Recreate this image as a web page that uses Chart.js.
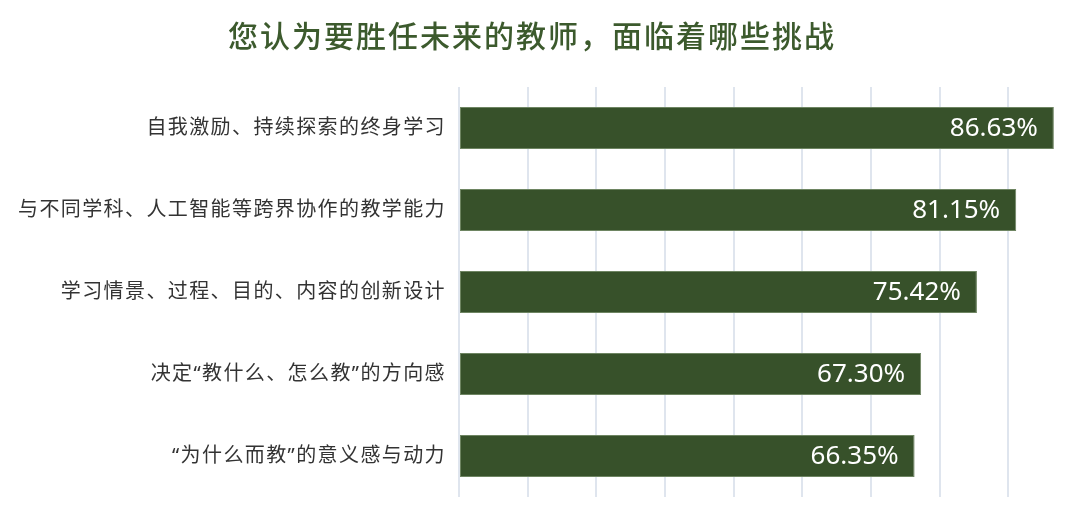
<!DOCTYPE html>
<html>
<head>
<meta charset="utf-8">
<script src="https://cdn.jsdelivr.net/npm/chart.js@4.4.0/dist/chart.umd.min.js"></script>
<style>
  html, body { margin: 0; padding: 0; background: #fff; }
  #wrap { width: 1080px; height: 506px; }
</style>
</head>
<body>
<div id="wrap"><canvas id="grafico"></canvas></div>
<script>
// -------- DADOS --------
const titulo = "您认为要胜任未来的教师，面临着哪些挑战";
const categorias = [
  "自我激励、持续探索的终身学习",
  "与不同学科、人工智能等跨界协作的教学能力",
  "学习情景、过程、目的、内容的创新设计",
  "决定“教什么、怎么教”的方向感",
  "“为什么而教”的意义感与动力"
];
const valores = [86.63, 81.15, 75.42, 67.30, 66.35];
const eixoMax = 90;

// -------- CORES --------
const verdeBarra = "#37512a";
const verdeTitulo = "#3c5a2d";
const corGrade = "#dfe5ee";
const fonteCJK = '"Noto Sans", "Noto Sans CJK SC", sans-serif';

// espaçamento entre letras (o canvas do Chart.js não tem opção pra isso)
const espacamento = {
  id: "espacamento",
  beforeDraw(chart) {
    chart.ctx.letterSpacing = "1.4px";
  }
};

// título desenhado à mão (fica um pouco à esquerda do centro no original)
const tituloPlugin = {
  id: "tituloPlugin",
  afterDraw(chart) {
    const ctx = chart.ctx;
    ctx.save();
    ctx.letterSpacing = "2px";
    ctx.font = '500 30px ' + fonteCJK;
    ctx.fillStyle = verdeTitulo;
    ctx.textAlign = "center";
    ctx.textBaseline = "middle";
    ctx.fillText(titulo, 532, 38);
    ctx.restore();
  }
};

// rótulos de valor dentro da barra
const rotulos = {
  id: "rotulos",
  afterDatasetsDraw(chart) {
    const ctx = chart.ctx;
    const meta = chart.getDatasetMeta(0);
    ctx.save();
    ctx.letterSpacing = "0px";
    ctx.font = '26px "Noto Sans", sans-serif';
    ctx.fillStyle = "#ffffff";
    ctx.textAlign = "right";
    ctx.textBaseline = "middle";
    meta.data.forEach((bar, i) => {
      ctx.fillText(valores[i].toFixed(2) + "%", bar.x - 16, bar.y + 1);
    });
    ctx.restore();
  }
};

const ctx = document.getElementById("grafico").getContext("2d");
let chart = new Chart(ctx, {
  type: "bar",
  data: {
    labels: categorias,
    datasets: [
      {
        data: valores,
        backgroundColor: verdeBarra,
        borderColor: "#6e8562",
        borderWidth: 1,
        borderSkipped: false,
        barPercentage: 0.51,
        categoryPercentage: 1
      }
    ]
  },
  options: {
    indexAxis: "y",
    responsive: true,
    maintainAspectRatio: false,
    animation: false,
    layout: { padding: { top: 87, right: 3, bottom: 9, left: 0 } },
    plugins: {
      legend: { display: false },
      tooltip: { enabled: false },
      title: { display: false }
    },
    scales: {
      x: {
        min: 0,
        max: eixoMax,
        afterFit(scale) { scale.height = 0; },
        ticks: { display: false, stepSize: 10 },
        border: { display: false },
        grid: {
          drawTicks: false,
          lineWidth: 2,
          color: (c) => (c.tick && c.tick.value === eixoMax ? "rgba(0,0,0,0)" : corGrade)
        }
      },
      y: {
        afterFit(scale) {
          scale.width = 459;
          scale.paddingTop = 0;
          scale.paddingBottom = 0;
        },
        border: { display: false },
        grid: { display: false, drawTicks: false },
        ticks: {
          color: "#333333",
          padding: 13,
          font: { family: fonteCJK, size: 20 }
        }
      }
    }
  },
  plugins: [espacamento, rotulos, tituloPlugin]
});
</script>
</body>
</html>
